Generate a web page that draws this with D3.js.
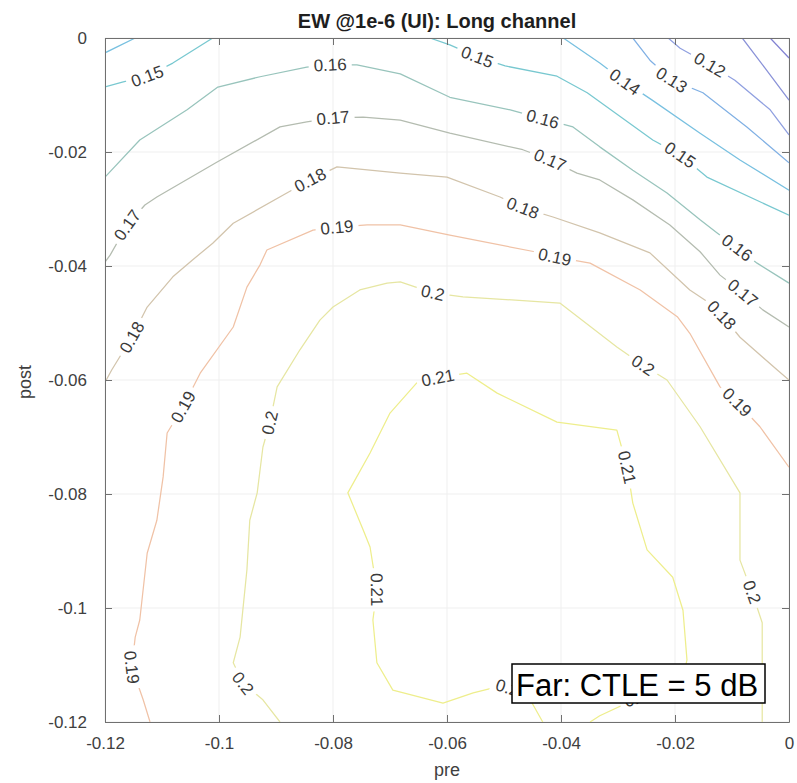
<!DOCTYPE html>
<html><head><meta charset="utf-8">
<script src="https://cdn.jsdelivr.net/npm/d3@7"></script>
<style>body{margin:0;background:#fff}</style>
</head><body><svg id="chart" width="797" height="783"></svg>
<script>
// ---------------- data ----------------
const titleText = "EW @1e-6 (UI): Long channel";
const xLabelText = "pre";
const yLabelText = "post";
const annotationText = "Far: CTLE = 5 dB";

const xTicks = [-0.12, -0.1, -0.08, -0.06, -0.04, -0.02, 0];
const xTickLabels = ["-0.12", "-0.1", "-0.08", "-0.06", "-0.04", "-0.02", "0"];
const yTicks = [-0.12, -0.1, -0.08, -0.06, -0.04, -0.02, 0];
const yTickLabels = ["-0.12", "-0.1", "-0.08", "-0.06", "-0.04", "-0.02", "0"];

const levels = [0.10, 0.11, 0.12, 0.13, 0.14, 0.15, 0.16, 0.17, 0.18, 0.19, 0.20, 0.21];

// contour polylines, points as [pre, post]
const c010 = [[-0.0033, 0], [0, -0.0035]];
const c011 = [[-0.0082, 0], [-0.0042, -0.0053], [0, -0.0109]];
const c012 = [[-0.0212, 0], [-0.0191, -0.0018], [-0.0139, -0.0047], [-0.0095, -0.0074], [-0.0033, -0.0126], [0, -0.0170]];
const c013 = [[-0.0274, 0], [-0.0244, -0.0039], [-0.0205, -0.0074], [-0.0151, -0.0096], [-0.0074, -0.0156], [0, -0.0219]];
const c014a = [[-0.12, -0.0026], [-0.1147, 0]];
const c014b = [[-0.0396, 0], [-0.0332, -0.0044], [-0.0288, -0.0077], [-0.0240, -0.0109], [-0.0156, -0.0167], [-0.0086, -0.0214], [0, -0.0267]];
const c015a = [[-0.12, -0.0086], [-0.1168, -0.0077], [-0.1126, -0.0067], [-0.1081, -0.0044], [-0.1011, 0]];
const c015b = [[-0.0630, 0], [-0.0595, -0.0012], [-0.0547, -0.0033], [-0.0498, -0.0049], [-0.0407, -0.0067], [-0.0354, -0.0096],
  [-0.0239, -0.0179], [-0.0191, -0.0205], [-0.0144, -0.0244], [0, -0.0311]];
const c016 = [[-0.12, -0.0244], [-0.1139, -0.0179], [-0.1056, -0.0126], [-0.1002, -0.0086], [-0.0928, -0.0068], [-0.0846, -0.0051],
  [-0.0805, -0.0047], [-0.0758, -0.0047], [-0.0682, -0.0063], [-0.0595, -0.0104], [-0.0489, -0.0126], [-0.0432, -0.0142],
  [-0.0379, -0.0156], [-0.0332, -0.0191], [-0.0274, -0.0232], [-0.0214, -0.0272], [-0.0156, -0.0319], [-0.0126, -0.0342],
  [-0.0091, -0.0368], [-0.0056, -0.0395], [0, -0.0430]];
const c017 = [[-0.12, -0.0393], [-0.1191, -0.0381], [-0.1161, -0.0328], [-0.1130, -0.0293], [-0.1109, -0.0279], [-0.1004, -0.0218],
  [-0.0893, -0.0156], [-0.0846, -0.0147], [-0.0800, -0.0140], [-0.0747, -0.0139], [-0.0682, -0.0144], [-0.0595, -0.0167],
  [-0.0467, -0.0196], [-0.0419, -0.0214], [-0.0372, -0.0237], [-0.0332, -0.0249], [-0.0274, -0.0284], [-0.0209, -0.0328],
  [-0.0156, -0.0375], [-0.0121, -0.0416], [-0.0081, -0.0447], [-0.0046, -0.0477], [0, -0.0507]];
const c018 = [[-0.12, -0.0604], [-0.1188, -0.0582], [-0.1153, -0.0525], [-0.1126, -0.0472], [-0.1081, -0.0419], [-0.1046, -0.0389],
  [-0.1011, -0.0360], [-0.0975, -0.0325], [-0.0881, -0.0272], [-0.0840, -0.0249], [-0.0793, -0.0226], [-0.0682, -0.0237],
  [-0.0600, -0.0244], [-0.0507, -0.0279], [-0.0467, -0.0298], [-0.0414, -0.0314], [-0.0332, -0.0342], [-0.0244, -0.0377],
  [-0.0174, -0.0442], [-0.0147, -0.0460], [-0.0118, -0.0486], [-0.0086, -0.0525], [-0.0021, -0.0582], [0, -0.0600]];
const c019 = [[-0.1121, -0.12], [-0.1133, -0.1161], [-0.1153, -0.1104], [-0.1147, -0.1051], [-0.1139, -0.1021], [-0.1126, -0.0904],
  [-0.1109, -0.0846], [-0.1098, -0.0770], [-0.1091, -0.0693], [-0.1063, -0.0647], [-0.1033, -0.0588], [-0.0975, -0.0507],
  [-0.0951, -0.0437], [-0.0928, -0.0398], [-0.0916, -0.0372], [-0.0835, -0.0337], [-0.0793, -0.0332], [-0.0740, -0.0328],
  [-0.0682, -0.0328], [-0.0595, -0.0346], [-0.0446, -0.0375], [-0.0411, -0.0384], [-0.0349, -0.0395], [-0.0261, -0.0442],
  [-0.0196, -0.0489], [-0.0174, -0.0518], [-0.0121, -0.0612], [-0.0091, -0.0639], [-0.0051, -0.0682], [0, -0.0753]];
const c020 = [[-0.0893, -0.12], [-0.0923, -0.1161], [-0.0958, -0.1132], [-0.0975, -0.1096], [-0.0963, -0.1051], [-0.0951, -0.0933],
  [-0.0946, -0.0846], [-0.0933, -0.0798], [-0.0923, -0.0718], [-0.0911, -0.0675], [-0.0898, -0.0612], [-0.0858, -0.0547],
  [-0.0823, -0.0495], [-0.0800, -0.0472], [-0.0753, -0.0442], [-0.0705, -0.0430], [-0.0682, -0.0428], [-0.0625, -0.0447],
  [-0.0572, -0.0454], [-0.0402, -0.0465], [-0.0302, -0.0542], [-0.0256, -0.0574], [-0.0214, -0.0600], [-0.0156, -0.0682],
  [-0.0086, -0.0798], [-0.0086, -0.0916], [-0.0065, -0.0972], [-0.0047, -0.1026], [-0.0047, -0.12]];
const c021 = [[-0.0432, -0.12], [-0.0454, -0.1161], [-0.0486, -0.1142], [-0.0519, -0.1140], [-0.0554, -0.1149], [-0.0607, -0.1167],
  [-0.0695, -0.1144], [-0.0723, -0.1096], [-0.0730, -0.1021], [-0.0723, -0.0968], [-0.0735, -0.0893], [-0.0747, -0.0863],
  [-0.0774, -0.0798], [-0.0735, -0.0728], [-0.0700, -0.0658], [-0.0653, -0.0605], [-0.0616, -0.0596], [-0.0565, -0.0588],
  [-0.0512, -0.0623], [-0.0407, -0.0674], [-0.0302, -0.0688], [-0.0284, -0.0753], [-0.0274, -0.0816], [-0.0249, -0.0898],
  [-0.0204, -0.0946], [-0.0186, -0.1004], [-0.0179, -0.1091], [-0.0191, -0.1144], [-0.0261, -0.1156], [-0.0332, -0.1189],
  [-0.0349, -0.12]];

const contourLines = [
  [0.10, c010], [0.11, c011], [0.12, c012], [0.13, c013], [0.14, c014a], [0.14, c014b],
  [0.15, c015a], [0.15, c015b], [0.16, c016], [0.17, c017], [0.18, c018], [0.19, c019],
  [0.20, c020], [0.21, c021]
];

// inline contour labels: [level, pre, post]
const contourLabels = [
  [0.12, -0.0139, -0.0047], [0.13, -0.0209, -0.0077], [0.14, -0.0288, -0.0077],
  [0.15, -0.1126, -0.0067], [0.15, -0.0547, -0.0033], [0.15, -0.0191, -0.0205],
  [0.16, -0.0805, -0.0047], [0.16, -0.0432, -0.0142], [0.16, -0.0091, -0.0368],
  [0.17, -0.1161, -0.0328], [0.17, -0.0800, -0.0140], [0.17, -0.0419, -0.0214], [0.17, -0.0081, -0.0447],
  [0.18, -0.1153, -0.0525], [0.18, -0.0840, -0.0249], [0.18, -0.0467, -0.0298], [0.18, -0.0118, -0.0486],
  [0.19, -0.1153, -0.1104], [0.19, -0.1063, -0.0647], [0.19, -0.0793, -0.0332], [0.19, -0.0411, -0.0384], [0.19, -0.0091, -0.0639],
  [0.20, -0.0958, -0.1132], [0.20, -0.0911, -0.0675], [0.20, -0.0625, -0.0447], [0.20, -0.0256, -0.0574], [0.20, -0.0065, -0.0972],
  [0.21, -0.0616, -0.0596], [0.21, -0.0284, -0.0753], [0.21, -0.0723, -0.0968], [0.21, -0.0486, -0.1142], [0.21, -0.0261, -0.1156]
];

// ---------------- styles / layout ----------------
const levelColors = ["#8282d2", "#8a92d8", "#90a0e0", "#80b0e4", "#78c0e0", "#78c8d0",
                     "#98c4bc", "#b4bcb0", "#d2c4ac", "#f0c2a6", "#e6e6a2", "#eeee8c"];
const color = d3.scaleOrdinal().domain(levels).range(levelColors);

const W = 797, H = 783;
const M = {left: 105, right: 789, top: 38, bottom: 722};
const FONT = "Liberation Sans, Arial, Helvetica, sans-serif";

const svg = d3.select("#chart");
svg.append("rect").attr("width", W).attr("height", H).attr("fill", "#fff");

const x = d3.scaleLinear().domain([-0.12, 0]).range([M.left, M.right]);
const y = d3.scaleLinear().domain([-0.12, 0]).range([M.bottom, M.top]);

// grid
const grid = svg.append("g");
grid.selectAll("line.gx").data(xTicks).join("line")
  .attr("x1", d => x(d)).attr("x2", d => x(d)).attr("y1", M.top).attr("y2", M.bottom)
  .attr("stroke", "#efefef").attr("stroke-width", 1);
grid.selectAll("line.gy").data(yTicks).join("line")
  .attr("y1", d => y(d)).attr("y2", d => y(d)).attr("x1", M.left).attr("x2", M.right)
  .attr("stroke", "#efefef").attr("stroke-width", 1);

// clip + mask
const defs = svg.append("defs");
defs.append("clipPath").attr("id", "plotclip").append("rect")
  .attr("x", M.left).attr("y", M.top).attr("width", M.right - M.left).attr("height", M.bottom - M.top);
const mask = defs.append("mask").attr("id", "lblmask").attr("maskUnits", "userSpaceOnUse")
  .attr("x", 0).attr("y", 0).attr("width", W).attr("height", H);
mask.append("rect").attr("width", W).attr("height", H).attr("fill", "#fff");

// contour lines
const line = d3.line().x(d => x(d[0])).y(d => y(d[1]));
const cg = svg.append("g").attr("clip-path", "url(#plotclip)");
const lg = cg.append("g").attr("mask", "url(#lblmask)");
lg.selectAll("path").data(contourLines).join("path")
  .attr("d", d => line(d[1]))
  .attr("fill", "none")
  .attr("stroke", d => color(d[0]))
  .attr("stroke-width", 1.25)
  .attr("stroke-linejoin", "round");

// label placement along lines
function nearest(level, px, py) {
  let best = null;
  contourLines.filter(c => Math.abs(c[0] - level) < 1e-9).forEach(c => {
    const sp = c[1].map(p => [x(p[0]), y(p[1])]);
    const cum = [0];
    for (let i = 1; i < sp.length; i++) cum.push(cum[i - 1] + Math.hypot(sp[i][0] - sp[i - 1][0], sp[i][1] - sp[i - 1][1]));
    for (let i = 0; i < sp.length - 1; i++) {
      const [ax, ay] = sp[i], [bx, by] = sp[i + 1];
      const dx = bx - ax, dy = by - ay, L2 = dx * dx + dy * dy;
      let t = L2 ? ((px - ax) * dx + (py - ay) * dy) / L2 : 0;
      t = Math.max(0, Math.min(1, t));
      const qx = ax + t * dx, qy = ay + t * dy, d = Math.hypot(px - qx, py - qy);
      if (!best || d < best.d) best = {d, qx, qy, sp, cum, s: cum[i] + t * Math.sqrt(L2)};
    }
  });
  return best;
}
function pointAt(sp, cum, s) {
  s = Math.max(0, Math.min(cum[cum.length - 1], s));
  for (let i = 0; i < sp.length - 1; i++) {
    if (s <= cum[i + 1] || i === sp.length - 2) {
      const seg = cum[i + 1] - cum[i] || 1, t = (s - cum[i]) / seg;
      return [sp[i][0] + t * (sp[i + 1][0] - sp[i][0]), sp[i][1] + t * (sp[i + 1][1] - sp[i][1])];
    }
  }
  return sp[sp.length - 1];
}

const labG = svg.append("g").attr("clip-path", "url(#plotclip)");
contourLabels.forEach(([lev, lx, ly]) => {
  const b = nearest(lev, x(lx), y(ly));
  const p1 = pointAt(b.sp, b.cum, b.s - 14), p2 = pointAt(b.sp, b.cum, b.s + 14);
  let ang = Math.atan2(p2[1] - p1[1], p2[0] - p1[0]) * 180 / Math.PI;
  if (ang > 90) ang -= 180;
  if (ang <= -90) ang += 180;
  const t = labG.append("text")
    .attr("transform", `translate(${b.qx},${b.qy}) rotate(${ang})`)
    .attr("text-anchor", "middle").attr("dy", "0.35em")
    .attr("font-family", FONT).attr("font-size", 17).attr("fill", "#3a3a3a")
    .text(String(lev));
  const w = t.node().getComputedTextLength();
  mask.append("rect")
    .attr("transform", `translate(${b.qx},${b.qy}) rotate(${ang})`)
    .attr("x", -w / 2 - 5).attr("y", -8).attr("width", w + 10).attr("height", 16)
    .attr("fill", "#000");
});

// axes (MATLAB style box, inward ticks)
const axisColor = "#707070";
function styleAxis(g) {
  g.select(".domain").attr("stroke", axisColor).attr("stroke-width", 1);
  g.selectAll(".tick line").attr("stroke", axisColor);
  g.selectAll(".tick text").attr("fill", "#404040").attr("font-family", FONT).attr("font-size", 17);
}
svg.append("g").attr("transform", `translate(0,${M.bottom})`)
  .call(d3.axisBottom(x).tickValues(xTicks).tickFormat((d, i) => xTickLabels[i]).tickSizeInner(-7).tickSizeOuter(0).tickPadding(15))
  .call(styleAxis);
svg.append("g").attr("transform", `translate(0,${M.top})`)
  .call(d3.axisTop(x).tickValues(xTicks).tickFormat("").tickSizeInner(-7).tickSizeOuter(0))
  .call(styleAxis);
svg.append("g").attr("transform", `translate(${M.left},0)`)
  .call(d3.axisLeft(y).tickValues(yTicks).tickFormat((d, i) => yTickLabels[i]).tickSizeInner(-7).tickSizeOuter(0).tickPadding(18))
  .call(styleAxis);
svg.append("g").attr("transform", `translate(${M.right},0)`)
  .call(d3.axisRight(y).tickValues(yTicks).tickFormat("").tickSizeInner(-7).tickSizeOuter(0))
  .call(styleAxis);

// title and axis labels
svg.append("text").attr("x", 437).attr("y", 28).attr("text-anchor", "middle")
  .attr("font-family", FONT).attr("font-weight", "bold").attr("font-size", 20).attr("fill", "#1e1e1e")
  .text(titleText);
svg.append("text").attr("x", (M.left + M.right) / 2).attr("y", 776).attr("text-anchor", "middle")
  .attr("font-family", FONT).attr("font-size", 18).attr("fill", "#404040").text(xLabelText);
svg.append("text").attr("transform", `translate(31,${(M.top + M.bottom) / 2 + 2}) rotate(-90)`).attr("text-anchor", "middle")
  .attr("font-family", FONT).attr("font-size", 18).attr("fill", "#404040").text(yLabelText);

// annotation box
svg.append("rect").attr("x", 512).attr("y", 664).attr("width", 253).attr("height", 39)
  .attr("fill", "#fff").attr("stroke", "#000").attr("stroke-width", 1.5);
svg.append("text").attr("x", 516).attr("y", 696)
  .attr("font-family", FONT).attr("font-size", 31).attr("fill", "#000").text(annotationText);
</script></body></html>
